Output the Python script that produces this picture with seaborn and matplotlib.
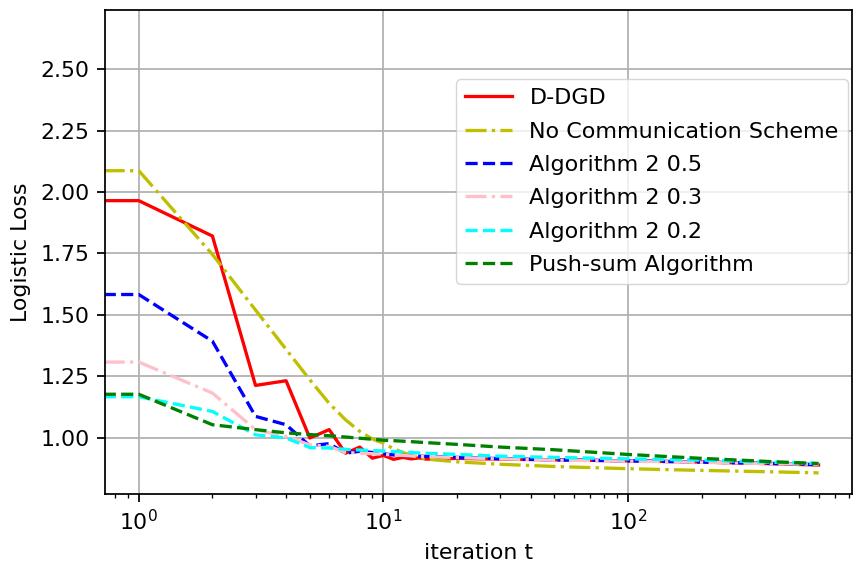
import numpy as np
import pandas as pd
import seaborn as sns
import matplotlib
matplotlib.use("Agg")
import matplotlib.pyplot as plt

iters = [0, 1, 2, 3, 4, 5, 6, 7, 8, 9, 10, 11, 12, 13, 14, 15, 20, 30, 50, 100, 200, 400, 600]

ddgd = [1.965, 1.965, 1.821, 1.213, 1.232, 0.999, 1.033, 0.937, 0.962, 0.917, 0.928, 0.912,
        0.920, 0.914, 0.918, 0.913, 0.916, 0.913, 0.910, 0.906, 0.901, 0.894, 0.889]
no_comm = [2.087, 2.087, 1.746, 1.520, 1.360, 1.236, 1.140, 1.073, 1.026, 0.995, 0.978, 0.955,
           0.940, 0.928, 0.920, 0.913, 0.902, 0.892, 0.883, 0.874, 0.867, 0.861, 0.857]
alg_05 = [1.583, 1.583, 1.393, 1.087, 1.053, 0.967, 0.976, 0.937, 0.945, 0.940, 0.935, 0.930,
          0.928, 0.926, 0.925, 0.924, 0.920, 0.915, 0.910, 0.906, 0.901, 0.895, 0.891]
alg_03 = [1.308, 1.308, 1.182, 1.033, 1.005, 0.971, 0.965, 0.940, 0.937, 0.935, 0.933, 0.930,
          0.928, 0.926, 0.924, 0.923, 0.919, 0.914, 0.909, 0.905, 0.900, 0.894, 0.892]
alg_02 = [1.167, 1.167, 1.107, 1.012, 0.999, 0.960, 0.958, 0.953, 0.950, 0.948, 0.946, 0.944,
          0.942, 0.940, 0.938, 0.937, 0.932, 0.925, 0.920, 0.914, 0.909, 0.900, 0.895]
push_sum = [1.177, 1.177, 1.053, 1.033, 1.020, 1.013, 1.008, 1.003, 0.998, 0.994, 0.990, 0.988,
            0.986, 0.984, 0.982, 0.980, 0.973, 0.962, 0.951, 0.932, 0.916, 0.902, 0.895]

labels = ["D-DGD", "No Communication Scheme", "Algorithm 2 0.5",
          "Algorithm 2 0.3", "Algorithm 2 0.2", "Push-sum Algorithm"]
series = [ddgd, no_comm, alg_05, alg_03, alg_02, push_sum]
colors = ["r", "y", "b", "pink", "cyan", "g"]
styles = ["-", "-.", "--", "-.", "--", "--"]

s = 1.58  # original was rendered at a larger scale
plt.rcParams.update({
    "font.family": "DejaVu Sans",
    "font.size": 10 * s,
    "axes.linewidth": 0.8 * s,
    "grid.linewidth": 0.8 * s,
    "grid.color": "#b0b0b0",
    "xtick.major.size": 3.5 * s,
    "ytick.major.size": 3.5 * s,
    "xtick.major.width": 0.8 * s,
    "ytick.major.width": 0.8 * s,
    "xtick.minor.size": 2 * s,
    "xtick.minor.width": 0.6 * s,
    "xtick.major.pad": 3.5 * s,
    "ytick.major.pad": 3.5 * s,
    "axes.labelpad": 4 * s,
    "lines.linewidth": 1.5 * s,
})

fig = plt.figure(figsize=(8.55, 5.69), dpi=100)
ax = fig.add_axes([0.1225, 0.1318, 0.8740, 0.8506])

for vals, lab, c, ls in zip(series, labels, colors, styles):
    sns.lineplot(x=iters, y=vals, ax=ax, color=c, linestyle=ls, label=lab,
                 linewidth=1.5 * s)

ax.set_xscale("log")
ax.set_xlim(0.726, 822)
ax.set_ylim(0.771, 2.741)
ax.grid(True, which="major")
ax.set_xlabel("iteration t")
ax.set_ylabel("Logistic Loss")

ax.legend(loc="upper right", bbox_to_anchor=(1.0, 0.866), borderaxespad=0.2,
          fontsize=16, labelspacing=0.6, handlelength=2.1)

fig.savefig("out.png", dpi=100)
